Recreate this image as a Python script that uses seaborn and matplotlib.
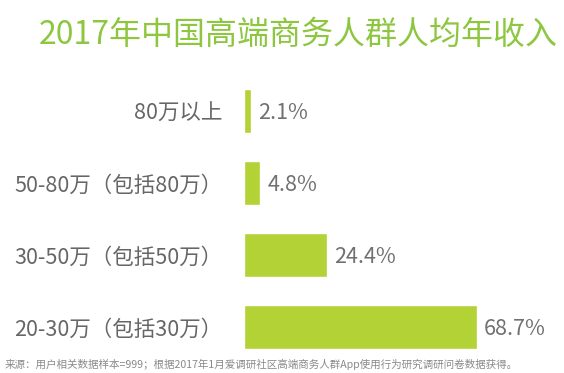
import matplotlib
matplotlib.use("Agg")
import matplotlib.pyplot as plt
import seaborn as sns
import pandas as pd

categories = ["80万以上", "50-80万（包括80万）", "30-50万（包括50万）", "20-30万（包括30万）"]
shares = [2.1, 4.8, 24.4, 68.7]
title = "2017年中国高端商务人群人均年收入"
source = "来源：用户相关数据样本=999；根据2017年1月爱调研社区高端商务人群App使用行为研究调研问卷数据获得。"

sns.set_theme(style="white")
plt.rcParams["font.family"] = ["Noto Sans CJK SC", "DejaVu Sans"]

df = pd.DataFrame({"category": categories, "share": shares})

W, H = 564, 373
fig = plt.figure(figsize=(W / 100, H / 100), dpi=100)
fig.patch.set_facecolor("white")

# axes placed in pixel terms: bars start at x=244, rows span y=75..363
ax_left, ax_width = 244, 300
ax_top, ax_bottom = 75, 363
ax = fig.add_axes([ax_left / W, (H - ax_bottom) / H, ax_width / W, (ax_bottom - ax_top) / H])

sns.barplot(data=df, x="share", y="category", orient="h", color="#b2d235",
            width=0.61, saturation=1, ax=ax)
ax.set_xlim(0, ax_width / 3.39)
ax.set_ylim(3.5, -0.5)
ax.set_xlabel("")
ax.set_ylabel("")
ax.set_xticks([])
for s in ax.spines.values():
    s.set_visible(False)
ax.tick_params(axis="y", length=0, pad=15.5, labelsize=15.5, labelcolor="#666666")
ax.set_facecolor("none")

for i, v in enumerate(shares):
    ax.text(v + 2.1, i + 0.03, f"{v}%", va="center", ha="left",
            fontsize=15.5, color="#707070")

fig.text(298 / W, 1 - 35 / H, title, ha="center", va="center",
         fontsize=23, color="#8dc63f")
fig.text(5 / W, 1 - 364 / H, source, ha="left", va="center",
         fontsize=7.6, color="#8a8a8a")

fig.savefig("out.png", dpi=100, facecolor="white")
